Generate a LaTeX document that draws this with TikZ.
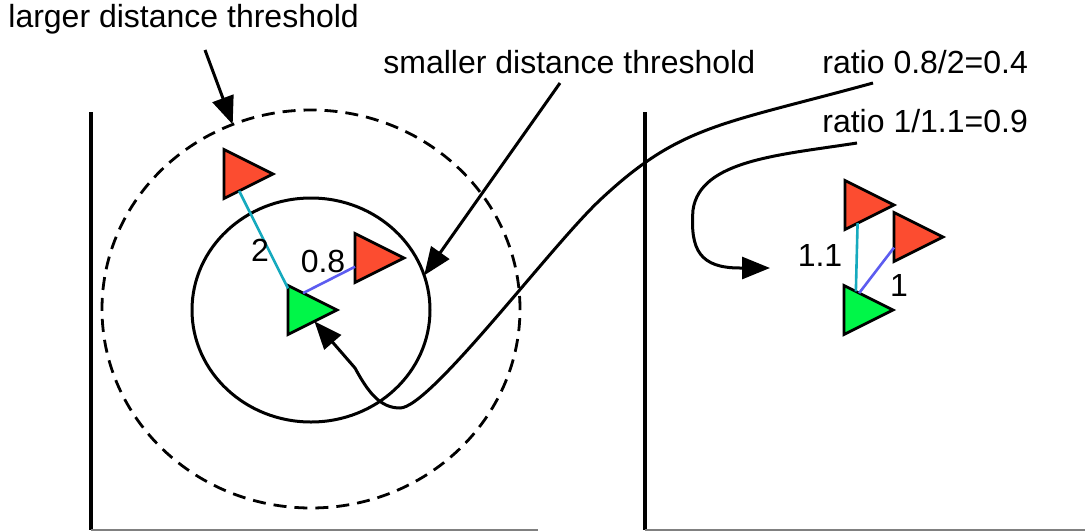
\documentclass[tikz,border=0pt]{standalone}
\usepackage{fontspec}
\setmainfont{Liberation Sans}
\usepackage{xcolor}
\usepackage{tikz}
\usetikzlibrary{arrows.meta,shapes.geometric}

\definecolor{ptred}{RGB}{252,76,48}
\definecolor{ptgreen}{RGB}{0,246,72}
\definecolor{lncyan}{RGB}{22,170,190}
\definecolor{lnblue}{RGB}{92,92,240}

\begin{document}
\begin{tikzpicture}[x=0.5pt,y=-0.5pt,font=\fontsize{16}{19}\selectfont,
    tri/.style={isosceles triangle, isosceles triangle stretches, draw=black,
      line width=1.4pt, minimum width=24.5pt, minimum height=24.5pt,
      inner sep=0pt, outer sep=0pt, anchor=apex},
    ptr/.style={line width=1.5pt, -{Triangle[length=14pt,width=11pt]}},
    txt/.style={anchor=base west, inner sep=0pt},
    lbl/.style={anchor=base, inner sep=0pt}]
    \useasboundingbox (0,0) rectangle (1089,531);
    \draw[line width=1.6pt] (91,112) -- (91,530);
    \draw[gray, line width=1pt] (91,530) -- (538,530);
    \draw[line width=1.6pt] (645,112) -- (645,530);
    \draw[gray, line width=1pt] (645,530) -- (1085,530);
    \node[draw, ellipse, dash pattern=on 6.5pt off 4pt, line width=1.4pt,
      minimum width=209pt, minimum height=199pt, outer sep=0pt] (outer) at (311,309) {};
    \node[draw, ellipse, line width=1.5pt,
      minimum width=119pt, minimum height=112pt, outer sep=0pt] (inner) at (311,310) {};
    \node[tri, fill=ptred] (r1) at (273,174) {};
    \node[tri, fill=ptred] (r2) at (404,258) {};
    \node[tri, fill=ptgreen] (g1) at (337,310) {};
    \node[tri, fill=ptred] (r3) at (894,205) {};
    \node[tri, fill=ptred] (r4) at (943,237) {};
    \node[tri, fill=ptgreen] (g2) at (893,310) {};
    \draw[lncyan, line width=1.3pt] (r1.south) -- (g1.125);
    \draw[lnblue, line width=1.3pt] (g1.north) -- (r2.210);
    \draw[lncyan, line width=1.3pt] (r3.262) -- (g2.100);
    \draw[lnblue, line width=1.3pt] (g2.north) -- (r4.215);
    \node[lbl] (d2) at (260,261) {2};
    \node[lbl] (d08) at (323,272) {0.8};
    \node[lbl] (d11) at (820,266) {1.1};
    \node[lbl] (d1) at (899,296) {1};
    \node[txt] (lg) at (8,27) {larger distance threshold};
    \node[txt] (sm) at (383,73) {smaller distance threshold};
    \node[txt] (ra) at (822,73) {ratio 0.8/2=0.4};
    \node[txt] (rb) at (822,132) {ratio 1/1.1=0.9};
    \coordinate (rtip) at (770,268);
    \draw[ptr] ([shift={(98.5pt,-11.5pt)}]lg.base west) -- (outer.113);
    \draw[ptr] ([shift={(88.5pt,-5pt)}]sm.base west) -- (inner.17);
    \draw[ptr] ([shift={(25.5pt,-5pt)}]ra.base west) .. controls (720,125) and (680,125) .. (600,200)
      .. controls (550,247) and (430,408) .. (400,408)
      .. controls (380,408) and (368,392) .. (355,368) -- (g1.-45);
    \draw[ptr] ([shift={(17.5pt,-5.5pt)}]rb.base west) .. controls (780,155) and (700,160) .. (693,210)
      .. controls (690,250) and (700,268) .. (740,268) -- (rtip);
\end{tikzpicture}
\end{document}
